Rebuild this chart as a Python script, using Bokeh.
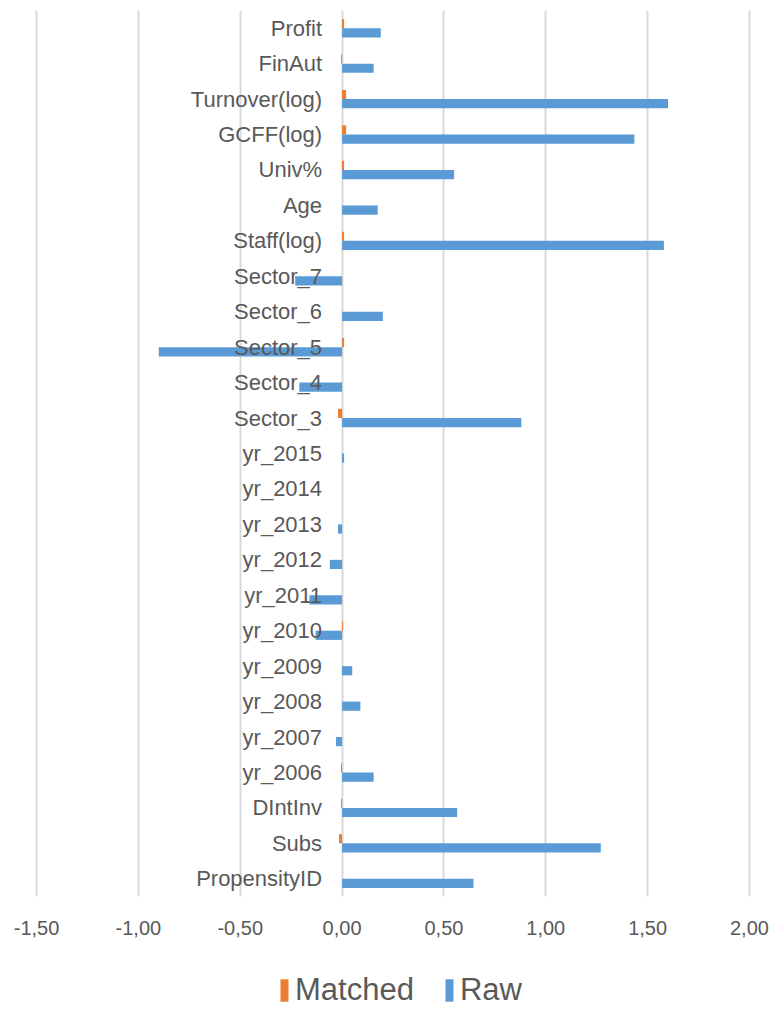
from bokeh.plotting import figure
from bokeh.layouts import column
from bokeh.models import (ColumnDataSource, FactorRange, Range1d, FixedTicker,
                          CustomJSTickFormatter, Legend, LegendItem)
from bokeh.transform import dodge
from bokeh.core.properties import value
from bokeh.embed import file_html
from bokeh.resources import INLINE

# Data (top to bottom as shown)
categories = ["Profit", "FinAut", "Turnover(log)", "GCFF(log)", "Univ%", "Age",
              "Staff(log)", "Sector_7", "Sector_6", "Sector_5", "Sector_4",
              "Sector_3", "yr_2015", "yr_2014", "yr_2013", "yr_2012", "yr_2011",
              "yr_2010", "yr_2009", "yr_2008", "yr_2007", "yr_2006", "DIntInv",
              "Subs", "PropensityID"]
raw = [0.19, 0.155, 1.60, 1.435, 0.55, 0.175, 1.58, -0.23, 0.20, -0.90, -0.21,
       0.88, 0.01, 0.0, -0.02, -0.06, -0.16, -0.13, 0.05, 0.09, -0.03, 0.155,
       0.565, 1.27, 0.645]
matched = [0.01, -0.005, 0.02, 0.02, 0.01, 0.0, 0.01, 0.0, 0.0, 0.01, 0.0,
           -0.02, 0.0, 0.0, 0.0, 0.0, 0.0, 0.005, 0.0, 0.0, 0.0, -0.005, -0.005,
           -0.015, 0.0]
x_ticks = [-1.5, -1.0, -0.5, 0.0, 0.5, 1.0, 1.5, 2.0]
series_names = ["Matched", "Raw"]
series_colors = ["#ED7D31", "#5B9BD5"]

FONT = "Liberation Sans"
TXT = "#595959"

src = ColumnDataSource(dict(cat=categories, raw=raw, matched=matched))

p = figure(width=774, height=964, output_backend="svg", toolbar_location=None,
           y_range=FactorRange(factors=list(reversed(categories))),
           x_range=Range1d(-1.51, 2.01),
           min_border_left=34, min_border_right=23, min_border_top=10,
           min_border_bottom=68)
p.outline_line_color = None
p.background_fill_color = "white"
p.border_fill_color = "white"

p.yaxis.visible = False
p.ygrid.grid_line_color = None
p.xgrid.grid_line_color = "#d9d9d9"
p.xgrid.grid_line_width = 2

p.xaxis.ticker = FixedTicker(ticks=x_ticks)
p.xaxis.formatter = CustomJSTickFormatter(code="return tick.toFixed(2).replace('.', ',');")
p.xaxis.axis_line_color = None
p.xaxis.major_tick_line_color = None
p.xaxis.minor_tick_line_color = None
p.xaxis.major_tick_out = 0
p.xaxis.major_tick_in = 0
p.xaxis.major_label_standoff = 24
p.xaxis.major_label_text_font = FONT
p.xaxis.major_label_text_font_size = "20px"
p.xaxis.major_label_text_color = TXT

p.hbar(y=dodge("cat", 0.13, range=p.y_range), right="matched", left=0,
       height=0.26, source=src, fill_color=series_colors[0], line_color=None)
p.hbar(y=dodge("cat", -0.13, range=p.y_range), right="raw", left=0,
       height=0.26, source=src, fill_color=series_colors[1], line_color=None)

p.text(x=0, y="cat", text="cat", source=src, x_offset=-20,
       text_align="right", text_baseline="middle",
       text_font=value(FONT), text_font_size="22px", text_color=TXT)

# Legend strip below the chart
q = figure(width=774, height=46, output_backend="svg", toolbar_location=None,
           x_range=Range1d(0, 1), y_range=Range1d(0, 1),
           min_border_left=0, min_border_right=0, min_border_top=0,
           min_border_bottom=0)
q.axis.visible = False
q.grid.visible = False
q.outline_line_color = None
q.border_fill_color = "white"
items = []
for name, col in zip(series_names, series_colors):
    # glyph placed outside the visible range; only its legend swatch is seen
    r = q.hbar(y=[-5], right=[1], left=0, height=0.5, fill_color=col, line_color=None)
    items.append(LegendItem(label=name, renderers=[r]))
legend = Legend(items=items, orientation="horizontal", location=(245, 2),
                label_text_font=FONT, label_text_font_size="31px",
                label_text_color=TXT, glyph_width=10, glyph_height=28,
                label_standoff=6, spacing=30, padding=0, margin=0,
                border_line_color=None, background_fill_alpha=0)
q.add_layout(legend, "center")

layout = column(p, q, spacing=0)
open("out.html", "w").write(file_html(layout, INLINE))
